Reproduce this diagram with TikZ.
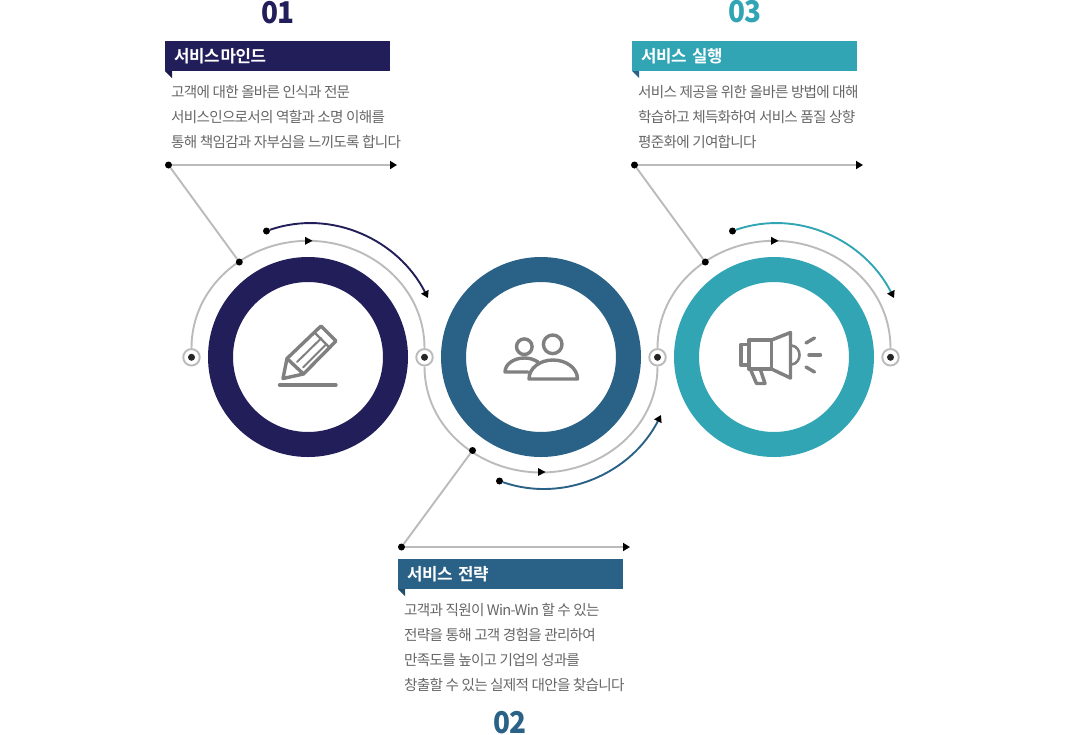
\documentclass[tikz,border=0pt]{standalone}
\usepackage{fontspec}
\usetikzlibrary{arrows.meta}
\setmainfont{Noto Sans CJK KR}
\newfontfamily\krbody[LetterSpace=-5]{Noto Sans CJK KR}
\newfontfamily\krhead[LetterSpace=-3,BoldFont={Noto Sans CJK KR Bold}]{Noto Sans CJK KR}
\newfontfamily\krnum[LetterSpace=-6,FakeStretch=0.93]{Noto Sans CJK KR}
\definecolor{cnavy}{HTML}{211E5A}
\definecolor{cblue}{HTML}{2A6186}
\definecolor{cteal}{HTML}{32A5B5}
\definecolor{cline}{HTML}{BBBBBB}
\definecolor{cbody}{HTML}{666666}
\definecolor{cicon}{HTML}{808080}
\tikzset{
  x=1pt,y=-1pt,
  ring/.style={circle,draw=#1,line width=25pt,minimum size=175pt,inner sep=0pt,fill=white},
  jdot/.style={circle,fill=black,minimum size=7pt,inner sep=0pt},
  fdot/.style={circle,fill=black,minimum size=7pt,inner sep=0pt},
  hub/.style={circle,draw=cline,line width=1.9pt,fill=white,minimum size=16.5pt,inner sep=0pt},
  hubcore/.style={circle,fill=black!85,minimum size=7pt,inner sep=0pt},
  thin line/.style={draw=cline,line width=1.9pt},
  arrowline/.style={draw=cline,line width=1.9pt,-{Triangle[length=7pt,width=8pt,color=black]}},
  lead/.style={draw=#1,line width=1.9pt,-{Triangle[length=7pt,width=8pt,color=black]},looseness=0.97},
  banner/.style={fill=#1,anchor=north west,minimum width=225pt,minimum height=30pt,inner sep=0pt,text width=216pt,align=left,text=white,font=\krhead\bfseries\fontsize{16.8}{20}\selectfont},
  fold/.style={fill=#1},
  bodytext/.style={anchor=west,inner sep=0pt,text=cbody,font=\krbody\fontsize{14.6}{25}\selectfont,align=left},
  numlabel/.style={anchor=center,inner sep=0pt,text=#1,font=\krnum\bfseries\fontsize{30}{30}\selectfont},
  icon/.style={draw=cicon,line width=3.4pt,line join=round,line cap=round},
  tri/.style={fill=black},
}
\begin{document}
\begin{tikzpicture}
\useasboundingbox (0,0) rectangle (1070,734);
% rings
\node[ring=cnavy] (r1) at (308,357) {};
\node[ring=cblue] (r2) at (541,357) {};
\node[ring=cteal] (r3) at (774,357) {};
% named points
\node[hub] (h1) at (191.5,357.3) {};
\node[hub] (h2) at (424.5,357.3) {};
\node[hub] (h3) at (657.5,357.3) {};
\node[hub] (h4) at (890.5,357.3) {};
\coordinate (t1) at (308,240.8);
\coordinate (t2) at (541,472.5);
\coordinate (t3) at (774,240.8);
% thin half circles
\path[thin line] (h1.north) to[out=90,in=180] (t1) to[out=0,in=90] (h2.north);
\path[thin line] (h2.south) to[out=-90,in=180] (t2) to[out=0,in=-90] (h3.south);
\path[thin line] (h3.north) to[out=90,in=180] (t3) to[out=0,in=90] (h4.north);
\foreach \n in {h1,h2,h3,h4}{\node[hubcore] at (\n) {};}
% small mid-arc arrowheads
\fill[tri] (305,236.8) -- (312.5,240.8) -- (305,244.8) -- cycle;
\fill[tri] (538,468) -- (545.5,472) -- (538,476) -- cycle;
\fill[tri] (771,236.8) -- (778.5,240.8) -- (771,244.8) -- cycle;
% leader dots
\node[jdot] (j1) at (239.3,262) {};
\node[jdot] (j2) at (472.5,450.5) {};
\node[jdot] (j3) at (705.3,262) {};
\node[fdot] (k1) at (168.5,165) {};
\node[fdot] (k2) at (401.5,547) {};
\node[fdot] (k3) at (634.5,165) {};
\coordinate (e1) at (397,165);
\coordinate (e2) at (630,547);
\coordinate (e3) at (863,165);
\path[thin line] (j1) -- (k1);
\path[thin line] (j2) -- (k2);
\path[thin line] (j3) -- (k3);
\path[arrowline] (k1) -- (e1);
\path[arrowline] (k2) -- (e2);
\path[arrowline] (k3) -- (e3);
% outer coloured arcs
\node[jdot] (s1) at (266.5,231) {};
\node[jdot] (s2) at (499.5,481) {};
\node[jdot] (s3) at (732.5,231) {};
\coordinate (f1) at (428,298);
\coordinate (f2) at (661,415);
\coordinate (f3) at (894,298);
\path[lead=cnavy] (s1) to[out=19,in=117] (f1);
\path[lead=cblue] (s2) to[out=-19,in=-117] (f2);
\path[lead=cteal] (s3) to[out=19,in=117] (f3);
% banners
\node[banner=cnavy] (b1) at (165,41) {\hspace*{4.5pt}서비스\hspace{-4.5pt} 마인드};
\node[banner=cblue] (b2) at (398,559) {\hspace*{4.5pt}서비스 전략};
\node[banner=cteal] (b3) at (632,41) {\hspace*{4.5pt}서비스 실행};
\fill[fold=cnavy!80!black] (165,71) -- (172,71) -- (172,78) -- cycle;
\fill[fold=cblue!80!black] (398,589) -- (405,589) -- (405,596) -- cycle;
\fill[fold=cblue] (632,71) -- (639,71) -- (639,78) -- cycle;
% numbers
\node[numlabel=cnavy] (n1) at (278,13) {01};
\node[numlabel=cblue] (n2) at (510,723) {02};
\node[numlabel=cteal] (n3) at (745,12) {03};
% text
\node[bodytext] (x11) at (171,92) {고객에 대한 올바른 인식과 전문};
\node[bodytext] (x12) at (171,117) {서비스인으로서의 역할과 소명 이해를};
\node[bodytext] (x13) at (171,142) {통해 책임감과 자부심을 느끼도록 합니다};
\node[bodytext] (x21) at (404,610) {고객과 직원이 Win-Win 할 수 있는};
\node[bodytext] (x22) at (404,635) {전략을 통해 고객 경험을 관리하여};
\node[bodytext] (x23) at (404,660) {만족도를 높이고 기업의 성과를};
\node[bodytext] (x24) at (404,685) {창출할 수 있는 실제적 대안을 찾습니다};
\node[bodytext] (x31) at (638,92) {서비스 제공을 위한 올바른 방법에 대해};
\node[bodytext] (x32) at (638,117) {학습하고 체득화하여 서비스 품질 상향};
\node[bodytext] (x33) at (638,142) {평준화에 기여합니다};
% pencil icon
\draw[icon] (283,378.5) -- (287,358.5) -- (321,326) -- (336,341) -- (303.5,374) -- cycle;
\draw[icon] (287,358.5) -- (303.5,374);
\draw[icon,line width=2.4pt] (314.5,332.5) -- (329.5,347.5);
\draw[icon,line width=2pt] (297,362) -- (321.5,338);
\draw[icon,line width=2pt] (303,367.5) -- (326.5,344);
\draw[icon] (279.5,385) -- (336,385);
% people icon
\draw[icon] (524.3,346.7) circle[radius=7.8];
\draw[icon] (552.7,344.3) circle[radius=9.3];
\draw[icon] (528,372) -- (505,372) .. controls (505,364) and (514,358) .. (524.3,358) .. controls (530,358) and (534,359.5) .. (538,362);
\draw[icon] (529,379) -- (577.5,379) .. controls (577.5,368) and (566,360) .. (553,360) .. controls (540,360) and (529,368) .. (529,379) -- cycle;
% megaphone icon
\draw[icon] (749,344.5) -- (741,344.5) -- (741,365) -- (749,365);
\draw[icon] (749,340) -- (771.5,340) -- (771.5,369) -- (749,369) -- cycle;
\draw[icon] (771.5,340) -- (790.5,332.5) -- (790.5,378) -- (771.5,369);
\draw[icon,line width=2.6pt] (791.5,345.5) .. controls (797,346) and (799.5,351) .. (799.5,355) .. controls (799.5,359) and (797,364) .. (791.5,364.5);
\draw[icon] (750.5,369.5) -- (756.5,383.5) -- (765,383.5) -- (760.5,370);
\draw[icon] (806,343) -- (814.5,338);
\draw[icon] (809,355) -- (820.5,355);
\draw[icon] (806,367) -- (814.5,372);
\end{tikzpicture}
\end{document}
